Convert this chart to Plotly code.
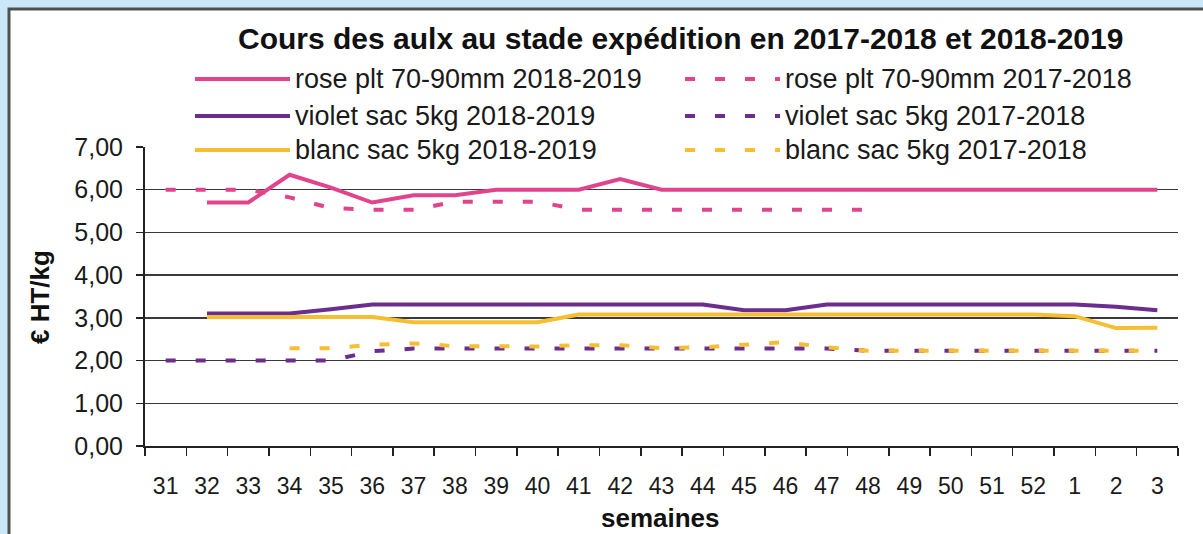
import plotly.graph_objects as go

# ---------------- data ----------------
weeks = ["31", "32", "33", "34", "35", "36", "37", "38", "39", "40", "41", "42",
         "43", "44", "45", "46", "47", "48", "49", "50", "51", "52", "1", "2", "3"]

rose_2018_2019 = [None, 5.70, 5.70, 6.35, 6.05, 5.70, 5.87, 5.87, 6.00, 6.00, 6.00, 6.25,
                  6.00, 6.00, 6.00, 6.00, 6.00, 6.00, 6.00, 6.00, 6.00, 6.00, 6.00, 6.00, 6.00]
rose_2017_2018 = [6.00, 6.00, 6.00, 5.82, 5.57, 5.53, 5.53, 5.72, 5.72, 5.72, 5.53, 5.53,
                  5.53, 5.53, 5.53, 5.53, 5.53, 5.53, None, None, None, None, None, None, None]
violet_2018_2019 = [None, 3.10, 3.10, 3.10, 3.20, 3.31, 3.31, 3.31, 3.31, 3.31, 3.31, 3.31,
                    3.31, 3.31, 3.18, 3.18, 3.31, 3.31, 3.31, 3.31, 3.31, 3.31, 3.31, 3.26, 3.18]
violet_2017_2018 = [2.00, 2.00, 2.00, 2.00, 2.00, 2.22, 2.28, 2.28, 2.28, 2.28, 2.28, 2.28,
                    2.28, 2.28, 2.28, 2.28, 2.28, 2.23, 2.23, 2.23, 2.23, 2.23, 2.23, 2.23, 2.23]
blanc_2018_2019 = [None, 3.02, 3.02, 3.02, 3.02, 3.02, 2.90, 2.90, 2.90, 2.90, 3.08, 3.08,
                   3.08, 3.08, 3.08, 3.08, 3.08, 3.08, 3.08, 3.08, 3.08, 3.08, 3.04, 2.76, 2.77]
blanc_2017_2018 = [None, None, None, 2.29, 2.29, 2.37, 2.40, 2.34, 2.33, 2.33, 2.36, 2.36,
                   2.29, 2.31, 2.37, 2.43, 2.31, 2.23, 2.23, 2.23, 2.23, 2.23, 2.23, 2.23, 2.23]

names = {
    "rose19": "rose plt 70-90mm 2018-2019",
    "rose18": "rose plt 70-90mm 2017-2018",
    "violet19": "violet sac 5kg 2018-2019",
    "violet18": "violet sac 5kg 2017-2018",
    "blanc19": "blanc sac 5kg 2018-2019",
    "blanc18": "blanc sac 5kg 2017-2018",
}

ROSE = "#E2448C"
VIOLET = "#6B2D8E"
BLANC = "#F6BF33"
DASH = "10px,20px"
FONT = "Liberation Sans, Arial, sans-serif"

# ---------------- geometry ----------------
W, H = 1203, 534
L, R, T, B = 145, 25, 147, 88
PW, PH = W - L - R, H - T - B


def px_x(x):
    return (x - L) / PW


def px_y(y):
    return (H - B - y) / PH


fig = go.Figure()

series = [
    (rose_2017_2018, "rose18", ROSE, DASH),
    (violet_2017_2018, "violet18", VIOLET, DASH),
    (blanc_2017_2018, "blanc18", BLANC, DASH),
    (violet_2018_2019, "violet19", VIOLET, "solid"),
    (blanc_2018_2019, "blanc19", BLANC, "solid"),
    (rose_2018_2019, "rose19", ROSE, "solid"),
]
for vals, key, col, dash in series:
    fig.add_trace(go.Scatter(
        x=weeks, y=vals, mode="lines", name=names[key],
        line=dict(color=col, width=4, dash=dash),
        connectgaps=False, showlegend=False, hoverinfo="skip",
    ))

shapes = []
# white chart frame over light-blue page
shapes.append(dict(type="rect", xref="paper", yref="paper", layer="below",
                   x0=px_x(9), x1=px_x(1240), y0=px_y(560), y1=px_y(9),
                   fillcolor="white", line=dict(color="#505050", width=3)))
# legend white cover (hides the top grid line behind legend)
shapes.append(dict(type="rect", xref="paper", yref="paper", layer="above",
                   x0=px_x(180), x1=px_x(1148), y0=px_y(156), y1=px_y(140),
                   fillcolor="white", line=dict(width=0)))

legend_rows = [("rose19", "rose18", ROSE, 79), ("violet19", "violet18", VIOLET, 116),
               ("blanc19", "blanc18", BLANC, 150)]
annotations = []
for k_solid, k_dash, col, ypx in legend_rows:
    shapes.append(dict(type="line", xref="paper", yref="paper", layer="above",
                       x0=px_x(195), x1=px_x(290), y0=px_y(ypx), y1=px_y(ypx),
                       line=dict(color=col, width=4)))
    shapes.append(dict(type="line", xref="paper", yref="paper", layer="above",
                       x0=px_x(685), x1=px_x(780), y0=px_y(ypx), y1=px_y(ypx),
                       line=dict(color=col, width=4, dash=DASH)))
    annotations.append(dict(xref="paper", yref="paper", x=px_x(293), y=px_y(ypx),
                            xanchor="left", yanchor="middle", showarrow=False,
                            text=names[k_solid], font=dict(family=FONT, size=27, color="#1a1a1a")))
    annotations.append(dict(xref="paper", yref="paper", x=px_x(783), y=px_y(ypx),
                            xanchor="left", yanchor="middle", showarrow=False,
                            text=names[k_dash], font=dict(family=FONT, size=27, color="#1a1a1a")))

# title
annotations.append(dict(xref="paper", yref="paper", x=px_x(680), y=px_y(38),
                        xanchor="center", yanchor="middle", showarrow=False,
                        text="<b>Cours des aulx au stade expédition en 2017-2018 et 2018-2019</b>",
                        font=dict(family=FONT, size=30, color="#111111")))
# axis titles
annotations.append(dict(xref="paper", yref="paper", x=px_x(660), y=px_y(518),
                        xanchor="center", yanchor="middle", showarrow=False,
                        text="<b>semaines</b>", font=dict(family=FONT, size=26, color="#111111")))
annotations.append(dict(xref="paper", yref="paper", x=px_x(40), y=px_y(297),
                        xanchor="center", yanchor="middle", showarrow=False, textangle=-90,
                        text="<b>€ HT/kg</b>", font=dict(family=FONT, size=26, color="#111111")))

fig.update_layout(
    width=W, height=H,
    margin=dict(l=L, r=R, t=T, b=B, pad=0),
    paper_bgcolor="#CBE8F8",
    plot_bgcolor="rgba(0,0,0,0)",
    separators=",.",
    showlegend=False,
    shapes=shapes,
    annotations=annotations,
    font=dict(family=FONT, color="#1a1a1a"),
)

fig.update_xaxes(
    type="category", categoryorder="array", categoryarray=weeks,
    range=[-0.5, len(weeks) - 0.5],
    tickson="boundaries", ticks="outside", ticklen=8, tickwidth=1.5, tickcolor="#222",
    showgrid=False, showline=True, linecolor="#222", linewidth=2,
    tickfont=dict(family=FONT, size=23, color="#1a1a1a"),
    ticklabelstandoff=18, zeroline=False, automargin=False,
)
fig.update_yaxes(
    range=[0, 7], dtick=1, tick0=0, tickformat=".2f",
    ticks="outside", ticklen=7, tickwidth=1.5, tickcolor="#222",
    showgrid=True, gridcolor="#3a3a3a", gridwidth=1.5,
    showline=True, linecolor="#222", linewidth=2, zeroline=False,
    tickfont=dict(family=FONT, size=25, color="#1a1a1a"),
    ticklabelstandoff=8, automargin=False,
)

fig.write_html(
    "out.html",
    config={"displayModeBar": False, "staticPlot": True},
    post_script="document.body.style.margin='0';document.body.style.overflow='hidden';"
                "document.body.style.background='#CBE8F8';",
)
